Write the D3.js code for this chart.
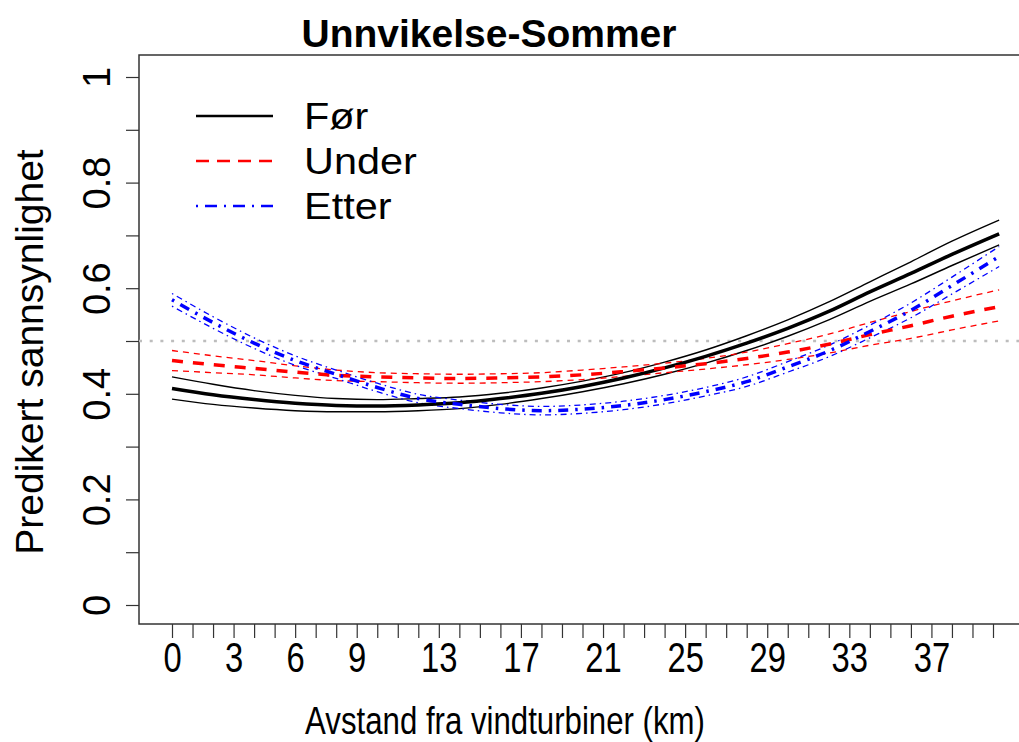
<!DOCTYPE html>
<meta charset="utf-8">
<style>
body { margin: 0; background: #fff; }
text { font-family: "Liberation Sans", Arial, sans-serif; fill: #000; }
.axis path { display: none; }
.axis line { stroke: #333; stroke-width: 1.2px; }
</style>
<body>
<script src="https://d3js.org/d3.v7.min.js"></script>
<script>

// distance (km) where the curves were read
var dist = [0, 2, 4, 6, 8, 10, 12, 14, 16, 18, 20, 22, 24, 26, 28, 30, 32, 34, 36, 38, 40.3];

// Før (before)
var forMean = [.410,.398,.389,.382,.378,.377,.379,.383,.391,.401,.414,.430,.449,.471,.496,.524,.556,.593,.628,.664,.703];
var forHi   = [.432,.418,.406,.397,.391,.389,.391,.394,.401,.411,.424,.440,.460,.483,.510,.540,.574,.612,.650,.689,.729];
var forLo   = [.390,.380,.373,.368,.366,.366,.368,.372,.380,.391,.404,.419,.437,.458,.482,.509,.540,.575,.608,.643,.682];

// Under (during)
var underMean = [.463,.455,.448,.441,.435,.432,.430,.429,.430,.432,.436,.442,.449,.457,.467,.479,.494,.512,.529,.547,.565];
var underHi   = [.482,.472,.463,.453,.445,.440,.438,.437,.438,.440,.445,.451,.458,.467,.479,.495,.513,.535,.556,.576,.597];
var underLo   = [.444,.440,.436,.430,.425,.423,.421,.420,.421,.423,.427,.433,.440,.447,.455,.465,.477,.492,.505,.521,.538];

// Etter (after)
var etterMean = [.578,.535,.496,.463,.437,.412,.391,.380,.372,.368,.371,.378,.389,.404,.423,.451,.481,.518,.558,.605,.660];
var etterHi   = [.590,.546,.506,.472,.445,.420,.399,.388,.380,.376,.379,.386,.397,.412,.432,.461,.492,.530,.572,.621,.679];
var etterLo   = [.566,.524,.486,.454,.429,.404,.383,.372,.364,.360,.363,.370,.381,.396,.414,.441,.470,.506,.544,.589,.641];

var xTicks = d3.range(0, 41);
var xLabels = [0, 3, 6, 9, 13, 17, 21, 25, 29, 33, 37];
var yTicks = d3.range(0, 11).map(function(i) { return i / 10; });
var yLabels = [0, 0.2, 0.4, 0.6, 0.8, 1];
var legendNames = ["Før", "Under", "Etter"];

var W = 1019, H = 742;
var box = {left: 139, top: 55, right: 1030, bottom: 624};

var x = d3.scaleLinear().domain([0, 40]).range([172, 993]);
var y = d3.scaleLinear().domain([0, 1]).range([605, 77]);

var svg = d3.select("body").append("svg")
    .attr("width", W)
    .attr("height", H);

// plot box
svg.append("rect")
    .attr("x", box.left).attr("y", box.top)
    .attr("width", box.right - box.left).attr("height", box.bottom - box.top)
    .attr("fill", "none").attr("stroke", "#333").attr("stroke-width", 1.5);

// title
svg.append("text")
    .attr("x", 489).attr("y", 47)
    .attr("text-anchor", "middle")
    .style("font-size", "39px").style("font-weight", "bold")
    .text("Unnvikelse-Sommer");

// x axis
var xAxis = svg.append("g")
    .attr("class", "axis")
    .attr("transform", "translate(0," + box.bottom + ")")
    .call(d3.axisBottom(x).tickValues(xTicks).tickSize(14).tickPadding(0)
        .tickFormat(function(d) { return xLabels.indexOf(d) >= 0 ? d : ""; }));
xAxis.selectAll("text")
    .attr("y", 48).attr("dy", 0)
    .style("font-size", "42px")
    .attr("transform", "scale(0.78,1)");

// y axis
var yAxis = svg.append("g")
    .attr("class", "axis")
    .attr("transform", "translate(" + box.left + ",0)")
    .call(d3.axisLeft(y).tickValues(yTicks).tickSize(13)
        .tickFormat(function(d) {
          var hit = yLabels.filter(function(v) { return Math.abs(v - d) < 1e-9; });
          return hit.length ? d3.format("~g")(d) : "";
        }));
yAxis.selectAll("text")
    .attr("x", null).attr("dy", null)
    .attr("text-anchor", "middle")
    .style("font-size", "38px")
    .attr("transform", "translate(-29,0) rotate(-90)");

// axis titles
svg.append("text")
    .attr("transform", "translate(505,734) scale(0.8,1)")
    .attr("text-anchor", "middle")
    .style("font-size", "39px")
    .text("Avstand fra vindturbiner (km)");

svg.append("text")
    .attr("transform", "translate(43,352) rotate(-90)")
    .attr("text-anchor", "middle")
    .style("font-size", "39px")
    .text("Predikert sannsynlighet");

// 0.5 reference line
svg.append("line")
    .attr("x1", box.left).attr("x2", W)
    .attr("y1", y(0.5)).attr("y2", y(0.5))
    .attr("stroke", "#bdbdbd").attr("stroke-width", 2.5)
    .attr("stroke-dasharray", "3,7.7");

// curves
var line = d3.line()
    .x(function(d) { return x(d[0]); })
    .y(function(d) { return y(d[1]); })
    .curve(d3.curveMonotoneX);

function pairs(vals) { return dist.map(function(d, i) { return [d, vals[i]]; }); }

var series = [
  {vals: forLo,     color: "#000", w: 1.4, dash: null},
  {vals: forHi,     color: "#000", w: 1.4, dash: null},
  {vals: underLo,   color: "#f00", w: 1.3, dash: "6,5"},
  {vals: underHi,   color: "#f00", w: 1.3, dash: "6,5"},
  {vals: etterLo,   color: "#00f", w: 1.3, dash: "1.5,4,6,4"},
  {vals: etterHi,   color: "#00f", w: 1.3, dash: "1.5,4,6,4"},
  {vals: forMean,   color: "#000", w: 3.5, dash: null},
  {vals: underMean, color: "#f00", w: 3.5, dash: "11,10"},
  {vals: etterMean, color: "#00f", w: 3.5, dash: "2.5,7,10,7"}
];

svg.selectAll(".curve")
    .data(series)
  .enter().append("path")
    .attr("class", "curve")
    .attr("fill", "none")
    .attr("stroke", function(d) { return d.color; })
    .attr("stroke-width", function(d) { return d.w; })
    .attr("stroke-dasharray", function(d) { return d.dash; })
    .attr("d", function(d) { return line(pairs(d.vals)); });

// legend
var legendStyle = [
  {color: "#000", dash: null},
  {color: "#f00", dash: "13,8"},
  {color: "#00f", dash: "2,7,12,7"}
];
var legendY = [116, 161, 206];

legendNames.forEach(function(name, i) {
  svg.append("line")
      .attr("x1", 196).attr("x2", 273)
      .attr("y1", legendY[i]).attr("y2", legendY[i])
      .attr("stroke", legendStyle[i].color)
      .attr("stroke-width", 2.5)
      .attr("stroke-dasharray", legendStyle[i].dash);
  svg.append("text")
      .attr("transform", "translate(304," + (legendY[i] + 13) + ") scale(1.12,1)")
      .style("font-size", "37px")
      .text(name);
});

</script>
</body>
